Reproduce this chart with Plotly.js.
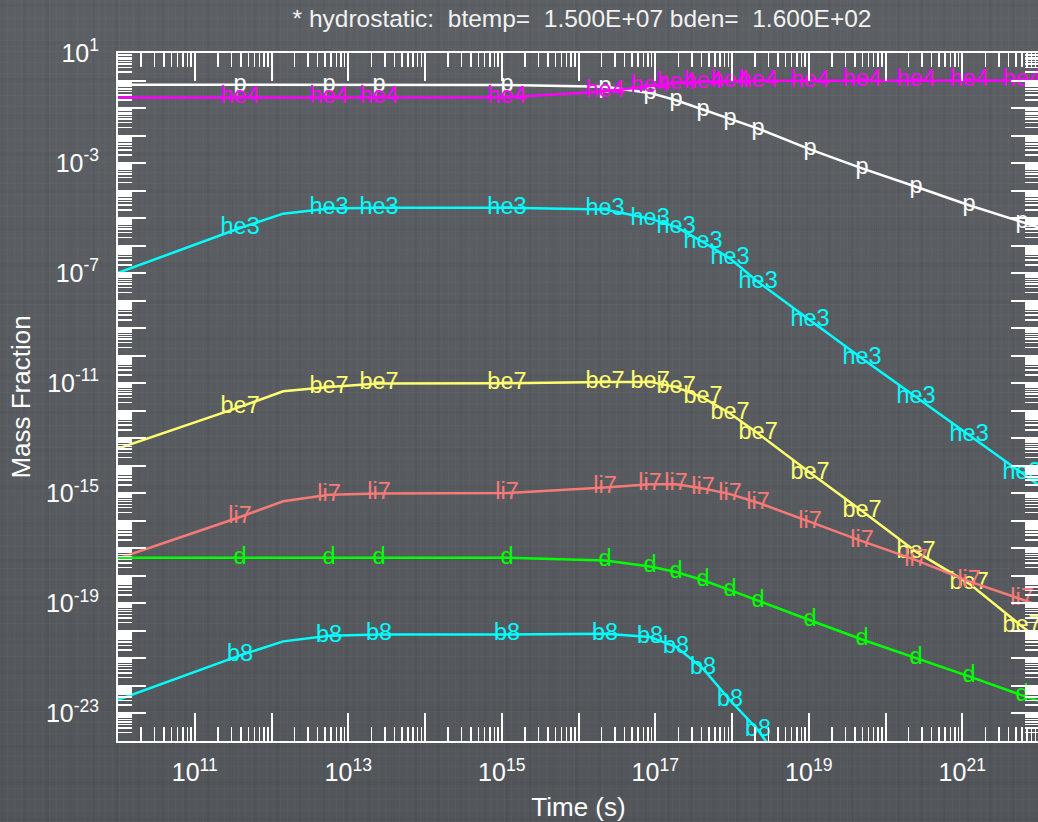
<!DOCTYPE html>
<html>
<head>
<meta charset="utf-8">
<script src="https://cdn.plot.ly/plotly-3.0.1.min.js"></script>
<style>
  html, body { margin: 0; padding: 0; overflow: hidden; }
  body {
    background-color: #575b60;
    background-image:
      repeating-linear-gradient(90deg, rgba(255,255,255,0.022) 0px, rgba(255,255,255,0.022) 1px, rgba(0,0,0,0) 1px, rgba(0,0,0,0) 7px),
      repeating-linear-gradient(90deg, rgba(0,0,0,0.035) 0px, rgba(0,0,0,0.035) 3px, rgba(0,0,0,0) 3px, rgba(0,0,0,0) 23px),
      repeating-linear-gradient(0deg, rgba(255,255,255,0.018) 0px, rgba(255,255,255,0.018) 1px, rgba(0,0,0,0) 1px, rgba(0,0,0,0) 11px),
      repeating-linear-gradient(0deg, rgba(0,0,0,0.03) 0px, rgba(0,0,0,0.03) 4px, rgba(0,0,0,0) 4px, rgba(0,0,0,0) 37px),
      linear-gradient(180deg, #5c6065 0%, #575b60 60%, #52565b 100%);
  }
  #chart { width: 1040px; height: 822px; }
</style>
</head>
<body>
<div id="chart"></div>
<script>
// ---- data ----
const timeS = [1.0e10, 3.90e11, 1.42e12, 5.62e12, 2.52e13, 1.17e15, 2.22e16, 8.57e16, 1.87e17,
               4.20e17, 9.44e17, 2.19e18, 1.04e19, 4.95e19, 2.50e20, 1.23e21, 6.01e21, 2.95e22];
const labelled = [0, 1, 0, 1, 1, 1, 1, 1, 1, 1, 1, 1, 1, 1, 1, 1, 1, 0];

const pX   = [0.708, 0.708, 0.708, 0.708, 0.708, 0.692, 0.589, 0.355, 0.191, 8.71e-2, 3.89e-2, 1.78e-2,
              3.16e-3, 6.46e-4, 1.38e-4, 2.95e-5, 7.24e-6, 1.74e-6];
const he4X = [0.240, 0.240, 0.240, 0.240, 0.240, 0.245, 0.398, 0.603, 0.813, 0.902, 0.955, 0.977,
              0.990, 0.994, 0.995, 0.995, 0.995, 0.995];
const he3X = [1.02e-7, 4.37e-6, 1.45e-5, 2.24e-5, 2.40e-5, 2.40e-5, 2.04e-5, 9.55e-6, 4.79e-6, 1.35e-6,
              3.39e-7, 4.79e-8, 1.95e-9, 7.94e-11, 3.16e-12, 1.29e-13, 5.25e-15, 2.24e-16];
const be7X = [4.27e-14, 1.38e-12, 5.13e-12, 7.24e-12, 9.77e-12, 1.00e-11, 1.12e-11, 1.12e-11, 7.24e-12,
              3.02e-12, 7.94e-13, 1.48e-13, 5.62e-15, 2.29e-16, 7.59e-18, 5.25e-19, 1.45e-20, 5.01e-22];
const li7X = [4.27e-18, 1.38e-16, 5.13e-16, 8.91e-16, 9.77e-16, 1.02e-15, 1.62e-15, 2.14e-15, 2.14e-15,
              1.51e-15, 9.33e-16, 4.57e-16, 9.12e-17, 1.82e-17, 3.72e-18, 6.31e-19, 1.38e-19, 2.82e-20];
const dX   = [4.57e-18, 4.57e-18, 4.57e-18, 4.57e-18, 4.57e-18, 4.57e-18, 3.63e-18, 2.19e-18, 1.38e-18,
              6.92e-19, 3.02e-19, 1.23e-19, 2.45e-20, 4.90e-21, 1.05e-21, 2.24e-22, 4.57e-23, 1.00e-23];
const b8X  = [3.16e-23, 1.29e-21, 4.17e-21, 6.61e-21, 7.41e-21, 7.41e-21, 7.94e-21, 6.03e-21, 2.63e-21,
              4.27e-22, 3.02e-23, 2.5e-24, 5.0e-27];

const speciesNames  = ['p', 'he4', 'he3', 'be7', 'li7', 'd', 'b8'];
const speciesValues = [pX, he4X, he3X, be7X, li7X, dX, b8X];
const speciesColors = ['#ffffff', '#ff00ff', '#00ffff', '#ffff70', '#f87a76', '#00ff00', '#00ffff'];

const xTickExp = [10, 11, 12, 13, 14, 15, 16, 17, 18, 19, 20, 21, 22];
const xLabelExp = [11, 13, 15, 17, 19, 21];
const yTickExp = [-24, -23, -22, -21, -20, -19, -18, -17, -16, -15, -14, -13, -12, -11, -10, -9, -8, -7, -6, -5, -4, -3, -2, -1, 0, 1];
const yLabelExp = [1, -3, -7, -11, -15, -19, -23];

const titleText = '* hydrostatic:\u00a0 btemp=\u00a0 1.500E+07 bden=\u00a0 1.600E+02';

// ---- build ----
const FONT = 'Liberation Sans, Arial, Helvetica, sans-serif';

const traces = speciesNames.map((name, k) => {
  const ys = speciesValues[k];
  const xs = timeS.slice(0, ys.length);
  return {
    type: 'scatter',
    mode: 'lines+text',
    name: name,
    x: xs,
    y: ys,
    text: ys.map((v, i) => labelled[i] ? name : ''),
    textposition: 'middle center',
    textfont: { family: FONT, size: 23.5, color: speciesColors[k] },
    line: { color: speciesColors[k], width: 2.5 },
    hoverinfo: 'skip',
    cliponaxis: true
  };
});

function minorVals(exps) {
  const out = [];
  for (let i = 0; i < exps.length - 1; i++) {
    for (let m = 2; m <= 9; m++) out.push(m * Math.pow(10, exps[i]));
  }
  return out;
}
function tickText(exps, labExps) {
  return exps.map(e => labExps.indexOf(e) >= 0 ? '10<sup>' + e + '</sup>' : '');
}

const axisBase = {
  type: 'log',
  showgrid: false,
  zeroline: false,
  showline: true,
  linecolor: '#ffffff',
  linewidth: 2,
  mirror: 'allticks',
  ticks: 'inside',
  ticklen: 28,
  tickwidth: 2,
  tickcolor: '#ffffff',
  tickmode: 'array',
  tickfont: { family: FONT, size: 25, color: '#ffffff' },
  automargin: false
};

const layout = {
  width: 1040,
  height: 822,
  margin: { l: 118, r: 1, t: 53, b: 81 },
  paper_bgcolor: 'rgba(0,0,0,0)',
  plot_bgcolor: 'rgba(0,0,0,0)',
  showlegend: false,
  title: {
    text: titleText,
    font: { family: FONT, size: 24.5, color: '#f2f2f2' },
    xref: 'container', yref: 'container',
    x: 582 / 1040, xanchor: 'center',
    y: 1 - 18 / 822, yanchor: 'middle'
  },
  xaxis: Object.assign({}, axisBase, {
    range: [10, 22],
    tickvals: xTickExp.map(e => Math.pow(10, e)),
    ticktext: tickText(xTickExp, xLabelExp),
    ticklabelstandoff: 8,
    minor: { ticks: 'inside', ticklen: 14, tickwidth: 1.5, tickcolor: '#ffffff',
             tickmode: 'array', tickvals: minorVals(xTickExp) },
    title: { text: 'Time (s)', font: { family: FONT, size: 26, color: '#ffffff' }, standoff: 13 }
  }),
  yaxis: Object.assign({}, axisBase, {
    range: [-24, 1],
    tickvals: yTickExp.map(e => Math.pow(10, e)),
    ticktext: tickText(yTickExp, yLabelExp),
    ticklabelstandoff: 12,
    minor: { ticks: 'inside', ticklen: 14, tickwidth: 1.5, tickcolor: '#ffffff',
             tickmode: 'array', tickvals: minorVals(yTickExp) },
    title: { text: 'Mass Fraction', font: { family: FONT, size: 26, color: '#ffffff' }, standoff: 8 }
  })
};

Plotly.newPlot('chart', traces, layout, { displayModeBar: false, staticPlot: true });
</script>
</body>
</html>
